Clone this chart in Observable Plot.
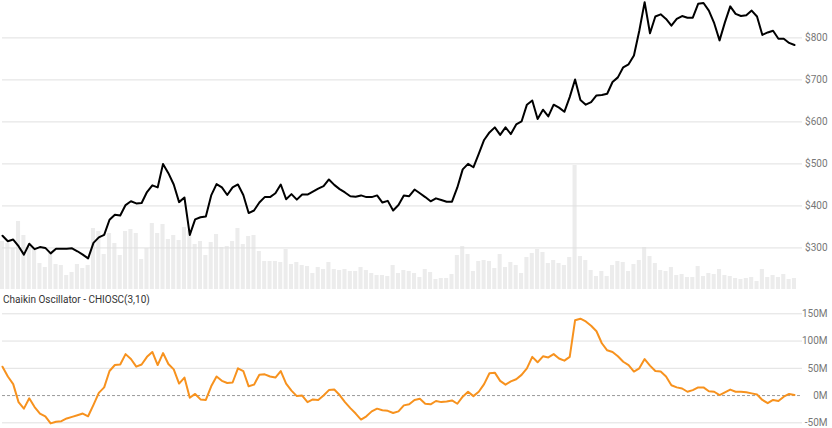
<!DOCTYPE html>
<html><head><meta charset="utf-8">
<script src="https://cdn.jsdelivr.net/npm/d3@7"></script>
<script src="https://cdn.jsdelivr.net/npm/@observablehq/plot@0.6"></script>
<style>
body{margin:0;background:#fff;}
#chart{position:relative;width:832px;height:428px;overflow:hidden;font-family:Roboto,"Liberation Sans",Arial,sans-serif;}
#chart svg{position:absolute;left:0;top:0;overflow:visible;}
#title{position:absolute;left:3px;top:294px;font-size:10px;color:#333;line-height:12px;white-space:nowrap;}
</style></head><body>
<div id="chart"><div id="title">Chaikin Oscillator - CHIOSC(3,10)</div></div>
<script>
const price = [329,316,320,304,284,310,297,302,300,287,298,298,298,299,292,284,275,312,325,331,
367,379,377,402,411,406,407,433,449,444,500,478,451,409,420,331,368,373,375,425,
452,444,426,444,451,426,383,389,408,421,421,430,451,416,428,415,427,427,434,441,
447,463,450,440,432,423,422,425,421,421,425,408,412,389,402,425,423,439,430,421,
411,418,414,410,410,444,487,500,492,524,557,575,587,569,587,571,594,601,641,651,
607,629,613,641,634,624,659,701,652,641,647,663,664,667,695,706,730,737,758,817,
885,811,851,856,845,829,845,852,848,848,881,883,865,835,794,837,875,857,852,854,
865,851,807,813,817,798,798,788,783];
const volume = [4.8,4.6,4.1,6.8,5.4,4.2,4.1,2.6,2.2,3.6,2.5,2.4,1.4,1.7,2.5,2.1,2.4,6.1,5.8,3.5,
5.6,4.6,3.4,5.8,6.0,5.6,3.0,4.1,6.6,5.6,6.5,5.0,5.4,4.9,6.2,5.9,4.5,4.8,3.4,4.7,
5.5,4.2,4.3,4.8,6.1,4.5,5.3,5.4,3.8,2.8,2.8,2.8,2.7,4.0,2.5,2.7,2.4,2.3,1.6,2.2,
2.0,2.7,2.0,1.9,2.0,1.8,1.8,2.2,1.9,1.6,1.4,1.4,1.3,2.4,1.6,1.9,1.8,1.6,1.2,2.0,
1.7,1.0,1.1,1.1,1.5,3.4,4.3,3.5,1.8,2.8,2.9,2.8,2.1,3.5,2.2,2.7,2.4,1.6,3.2,3.6,
4.0,3.7,2.6,2.9,2.6,2.4,3.2,12.4,3.3,2.9,1.9,1.3,1.8,1.3,2.4,2.8,2.7,1.8,2.5,2.9,
4.2,3.3,2.6,1.9,1.8,2.2,1.4,1.5,1.2,1.2,2.3,1.3,1.6,1.5,2.0,1.4,1.3,1.1,1.0,1.1,
1.2,0.8,2.0,1.2,1.4,1.2,1.5,1.0,1.1];
const chaikin = [53,35,21,-12,-24,-5,-21,-33,-38,-51,-48,-47,-42,-39,-36,-33,-38,-17,5,15,
45,56,57,76,67,53,57,71,80,56,78,58,48,22,33,-4,3,-7,-8,17,
35,27,23,24,50,45,17,20,38,39,35,33,45,22,9,-1,0,-12,-7,-8,
0,10,11,1,-12,-23,-33,-44,-38,-29,-24,-27,-28,-32,-29,-18,-16,-8,-6,-15,
-16,-10,-12,-11,-9,-15,-2,7,-1,7,21,41,42,27,20,26,30,38,50,71,
61,72,70,76,68,64,71,138,141,136,128,118,96,83,80,72,62,56,44,50,
67,55,45,44,35,19,15,13,7,10,15,15,8,7,1,6,11,7,7,6,
4,2,-8,-14,-8,-10,-2,3,1];
const priceTicks = [300,400,500,600,700,800];
const oscTicks = [-50,0,50,100,150];

const rows = price.map((p, i) => ({i, price: p, volume: volume[i], osc: chaikin[i]}));
const font = 'Roboto,"Liberation Sans",Arial,sans-serif';
const common = {
  width: 832, marginLeft: 2, marginRight: 30, marginTop: 0, marginBottom: 0,
  x: {domain: [0, 149.5], axis: null},
  style: {background: "transparent", fontFamily: font, fontSize: "10px", overflow: "visible"}
};

const volPlot = Plot.plot({
  ...common, height: 289,
  y: {domain: [0, 28.9], axis: null},
  marks: [
    Plot.rectY(rows, {x1: d => d.i - 0.38, x2: d => d.i + 0.38, y: "volume", fill: "#ececec"})
  ]
});

const pricePlot = Plot.plot({
  ...common, height: 289,
  y: {domain: [201, 889], axis: null},
  marks: [
    Plot.gridY(priceTicks, {stroke: "#e0e0e0", strokeOpacity: 1}),
    Plot.axisY(priceTicks, {anchor: "right", tickSize: 0, tickPadding: 25, textAnchor: "end",
      tickFormat: d => "$" + d, fill: "#777", label: null}),
    Plot.line(rows, {x: "i", y: "price", stroke: "#000", strokeWidth: 2})
  ]
});

const oscPlot = Plot.plot({
  ...common, height: 123,
  y: {domain: [-60.4, 165.2], axis: null},
  marks: [
    Plot.gridY(oscTicks.filter(d => d !== 0), {stroke: "#e0e0e0", strokeOpacity: 1}),
    Plot.ruleY([0], {stroke: "#9a9a9a", strokeDasharray: "3,2"}),
    Plot.axisY(oscTicks, {anchor: "right", tickSize: 0, tickPadding: 25, textAnchor: "end",
      tickFormat: d => d + "M", fill: "#777", label: null}),
    Plot.line(rows, {x: "i", y: "osc", stroke: "#f7921e", strokeWidth: 2})
  ]
});
oscPlot.style.top = "305px";

const chart = document.getElementById("chart");
chart.appendChild(volPlot);
chart.appendChild(pricePlot);
chart.appendChild(oscPlot);
</script>
</body></html>
